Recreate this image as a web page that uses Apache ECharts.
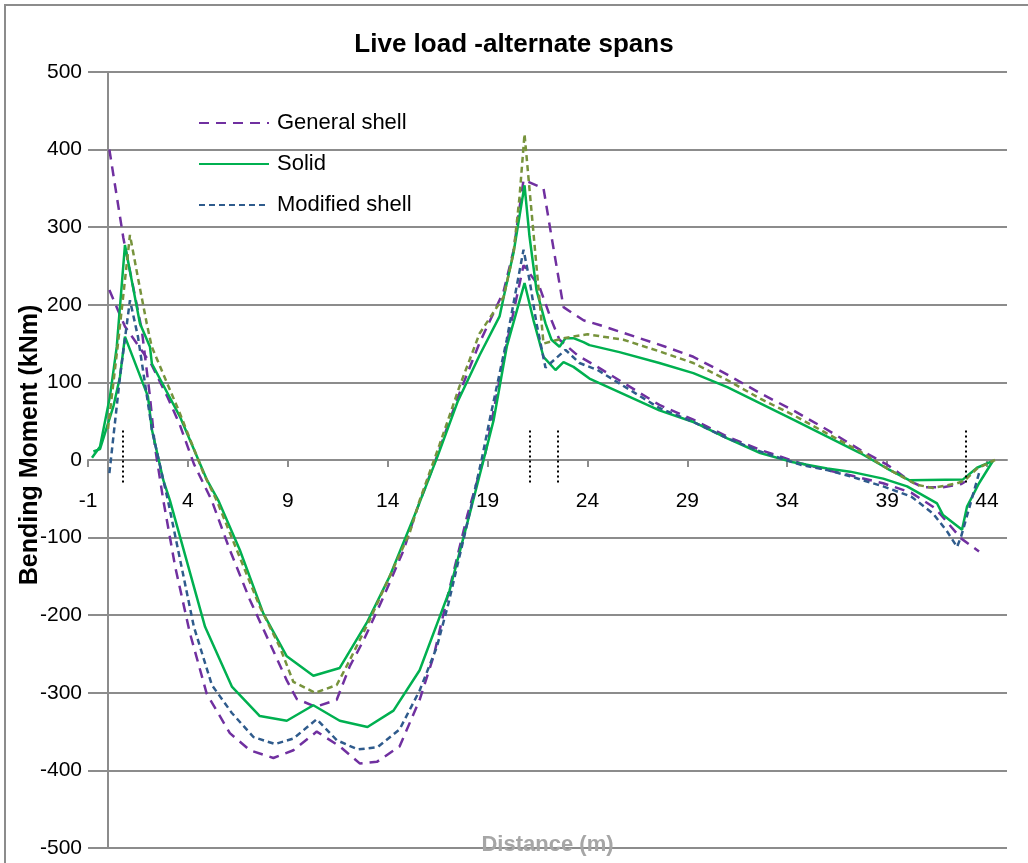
<!DOCTYPE html>
<html><head><meta charset="utf-8">
<script src="https://cdn.jsdelivr.net/npm/echarts@6.0.0/dist/echarts.min.js"></script>
<style>html,body{margin:0;padding:0;background:#fff}#c{width:1028px;height:863px}</style>
</head><body><div id="c"></div>
<script>
// ---- data (distance m, bending moment kNm) ----
const xTicks = [-1, 4, 9, 14, 19, 24, 29, 34, 39, 44];
const supportX = [0.75, 21.13, 22.49, 42.92];
const supportTop = 38, supportBottom = -30;

const generalShellA = [[0.07,400],[0.77,286],[1.19,232],[1.69,168],[2.1,82],[2.35,17],[2.77,-52],[3.36,-137],[4.1,-223],[4.94,-301],[6.1,-352],[7.1,-374],[8.28,-384],[9.28,-374],[10.45,-350],[11.6,-369],[12.6,-391],[13.46,-389],[14.6,-369],[15.6,-309],[16.3,-253],[16.96,-180],[18.0,-70],[18.9,10],[19.96,150],[20.8,251],[21.6,223],[22.2,180],[22.6,155],[23.5,135],[24.5,120],[27.6,71],[29.3,52],[31,30],[32.65,13],[34.65,-4],[36,-13],[37.2,-20],[38.8,-30],[40.2,-42],[41.4,-62],[42.2,-86],[42.7,-101],[43.6,-118]];
const generalShellB = [[0.07,219],[0.85,172],[1.5,148],[2.2,122],[3.0,80],[3.6,45],[4.3,-5],[5.19,-52],[6.1,-116],[7.1,-180],[8.1,-236],[8.95,-284],[9.45,-308],[10.4,-318],[11.45,-309],[12.1,-266],[12.8,-232],[13.8,-176],[14.8,-116],[15.46,-64],[16.4,0],[17.5,80],[18.6,151],[19.8,217],[20.3,270],[20.8,361],[21.8,350],[22.2,288],[22.8,197],[23.8,180],[24.6,174],[27.9,146],[29.3,133],[31,110],[32.65,86],[34.3,64],[36,39],[37.65,13],[39,-6],[40.2,-28],[40.8,-35],[41.8,-35],[42.7,-31],[42.9,-28]];
const solidA = [[-0.8,3],[-0.4,17],[0.1,82],[0.44,146],[0.85,277],[1.6,176],[2.1,146],[2.2,124],[3.6,56],[4.96,-26],[5.52,-52],[6.6,-116],[7.78,-198],[8.95,-253],[10.28,-278],[11.6,-268],[12.95,-210],[14.1,-150],[15.46,-64],[16.5,5],[17.5,75],[18.6,135],[19.6,185],[19.9,221],[20.3,267],[20.85,354],[21.1,288],[21.45,219],[21.9,176],[22.2,155],[22.6,146],[22.9,157],[23.3,157],[23.8,152],[24.1,148],[25.6,139],[27.6,125],[29.3,112],[31,94],[32.65,73],[34.3,52],[36,30],[37.65,9],[39,-11],[40.1,-26],[42.8,-25],[43.5,-10],[44.3,-1]];
const solidB = [[-0.73,11],[-0.4,14],[0.27,69],[0.6,107],[0.85,159],[2.0,82],[2.2,39],[2.77,-26],[3.1,-52],[4.86,-215],[6.2,-292],[7.6,-330],[8.95,-336],[10.28,-316],[11.6,-336],[12.99,-344],[14.29,-323],[15.6,-271],[17.1,-168],[18.2,-60],[18.8,0],[19.3,51],[19.96,146],[20.85,228],[21.3,180],[21.8,133],[22.4,116],[22.8,126],[23.3,120],[24.1,105],[27.6,64],[29.3,49],[31,28],[32.65,9],[34.3,-3],[36,-11],[37.15,-15],[38.8,-24],[40.0,-34],[41.5,-56],[41.8,-71],[42.75,-90],[43.0,-60],[43.6,-30],[44.3,-1]];
const modifiedShellA = [[0.07,-17],[0.6,107],[1.1,206],[1.5,159],[1.95,82],[2.2,39],[2.77,-26],[3.0,-52],[4.3,-215],[5.2,-290],[6.2,-326],[7.28,-357],[8.36,-366],[9.28,-359],[10.45,-334],[11.45,-361],[12.5,-373],[13.5,-370],[14.6,-347],[15.6,-297],[16.46,-241],[17.04,-185],[18.0,-80],[18.7,0],[19.1,51],[19.96,155],[20.8,271],[21.1,232],[21.45,176],[21.9,119],[22.9,142],[23.6,125],[24.5,116],[27.6,67],[29.3,49],[31,28],[32.65,11],[34.65,-6],[36,-13],[37.15,-21],[38.8,-34],[40.2,-47],[41.3,-69],[42.0,-92],[42.5,-112],[42.7,-99],[43.6,-17]];
const modifiedShellB = [[0.0,40],[0.5,150],[1.1,290],[1.52,232],[1.94,176],[2.19,146],[3.6,60],[4.78,-17],[5.44,-52],[6.45,-116],[7.6,-189],[8.6,-241],[9.28,-286],[10.37,-300],[11.45,-290],[12.1,-258],[13.1,-206],[14.1,-150],[15.1,-94],[15.6,-52],[16.6,20],[17.6,95],[18.6,163],[19.8,210],[20.3,267],[20.6,339],[20.85,420],[21.8,150],[22.8,157],[24,162],[25.8,155],[27.6,140],[29.3,125],[31,103],[32.65,79],[34.3,58],[36,34],[37.65,11],[39,-11],[40.5,-32],[41.3,-36],[42.5,-30],[42.9,-26],[43.5,-11],[44.4,0]];

// ---- styles ----
const FONT = 'Liberation Sans';
const GRID = '#8c8c8c';
const PURPLE = '#7030a0', GREEN = '#00b050', BLUE = '#2f5b8c', OLIVE = '#77933c';

function lineSeries(name, data, color, dash) {
  return {
    type: 'line', name: name, data: data, showSymbol: false, symbol: 'none',
    xAxisIndex: 0, yAxisIndex: 0,
    lineStyle: { color: color, width: 2.5, type: dash },
    itemStyle: { color: color }, z: 3
  };
}

const chart = echarts.init(document.getElementById('c'), null, { renderer: 'canvas' });
const yBase = { type: 'value', min: -500, max: 500, interval: 100, gridIndex: 0 };
const xBase = { type: 'value', min: -1, max: 45 };

const series = [
  lineSeries('General shell', generalShellA, PURPLE, [10, 7]),
  lineSeries('General shell', generalShellB, PURPLE, [10, 7]),
  lineSeries('Solid', solidA, GREEN, 'solid'),
  lineSeries('Solid', solidB, GREEN, 'solid'),
  lineSeries('Modified shell', modifiedShellA, BLUE, [6, 4]),
  lineSeries('Modified shell (B)', modifiedShellB, OLIVE, [6, 4])
];
series.push({
  type: 'line', name: 'supports', data: [], silent: true, xAxisIndex: 0, yAxisIndex: 0,
  markLine: {
    silent: true, symbol: ['none', 'none'], label: { show: false }, animation: false,
    lineStyle: { color: '#000', width: 2, type: [2, 3] },
    emphasis: { disabled: true },
    data: supportX.map(x => [{ coord: [x, supportTop] }, { coord: [x, supportBottom] }])
  }
});

chart.setOption({
  animation: false,
  backgroundColor: '#fff',
  textStyle: { fontFamily: FONT },
  graphic: [{
    type: 'rect', silent: true, z: -10,
    shape: { x: 5, y: 5, width: 1200, height: 1000 },
    style: { fill: 'none', stroke: GRID, lineWidth: 2 }
  }],
  title: {
    text: 'Live load -alternate spans', left: 'center', top: 27, padding: [5, 5, 5, 19],
    textStyle: { fontSize: 26, fontWeight: 'bold', color: '#000', fontFamily: FONT }
  },
  legend: {
    data: ['General shell', 'Solid', 'Modified shell'],
    orient: 'vertical', left: 198, top: 112, padding: 0,
    itemWidth: 70, itemHeight: 22, itemGap: 19,
    itemStyle: { opacity: 0, borderWidth: 0 },
    textStyle: { fontSize: 22, color: '#000', fontFamily: FONT, padding: [0, 0, 0, 3] }
  },
  grid: [
    { left: 88, right: 21, top: 72, bottom: 15, containLabel: false, outerBoundsMode: 'none' },
    { left: 88, right: 21, top: 72, bottom: 403, containLabel: false, outerBoundsMode: 'none' }
  ],
  xAxis: [
    Object.assign({}, xBase, {
      gridIndex: 0, position: 'bottom',
      name: 'Distance (m)', nameLocation: 'middle', nameGap: -14, nameMoveOverlap: false,
      nameTextStyle: { fontSize: 22, fontWeight: 'bold', color: '#a6a6a6', fontFamily: FONT },
      axisLine: { show: false, onZero: false }, axisTick: { show: false },
      axisLabel: { show: false }, splitLine: { show: false }
    }),
    Object.assign({}, xBase, {
      gridIndex: 1, position: 'bottom',
      axisLine: { show: true, onZero: false, lineStyle: { color: GRID, width: 2 } },
      axisTick: { customValues: xTicks, length: 7, lineStyle: { color: GRID, width: 2 } },
      axisLabel: { customValues: xTicks, margin: 31, fontSize: 21, color: '#000', fontFamily: FONT },
      splitLine: { show: false }
    })
  ],
  yAxis: [
    Object.assign({}, yBase, {
      name: 'Bending Moment (kNm)', nameLocation: 'middle', nameGap: 45, nameMoveOverlap: false,
      nameTextStyle: { fontSize: 25, fontWeight: 'bold', color: '#000', fontFamily: FONT, padding: [0, 0, 0, 30] },
      axisLine: { show: false, onZero: false }, axisTick: { show: false },
      axisLabel: { margin: 6, fontSize: 21, color: '#000', fontFamily: FONT },
      splitLine: { show: true, lineStyle: { color: GRID, width: 2 } }
    }),
    Object.assign({}, yBase, {
      position: 'left',
      axisLine: { show: true, onZero: true, lineStyle: { color: GRID, width: 2 } },
      axisTick: { show: true, length: 10, lineStyle: { color: GRID, width: 2 } },
      axisLabel: { show: false }, splitLine: { show: false }
    }),
    Object.assign({}, yBase, {
      position: 'left',
      axisLine: { show: false, onZero: true },
      axisTick: { show: true, inside: true, length: 13, lineStyle: { color: GRID, width: 2 } },
      axisLabel: { show: false }, splitLine: { show: false }
    }),
    { type: 'value', gridIndex: 1, min: 0, max: 500, show: false }
  ],
  series: series
});
</script></body></html>
